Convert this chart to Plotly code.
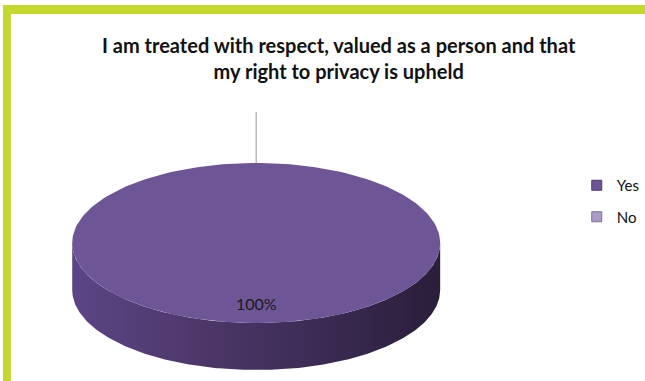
import numpy as np
import plotly.graph_objects as go

# Survey answers
categories = ["Yes", "No"]
values = [100, 0]
slice_colors = ["#6d5596", "#a99bc6"]
legend_edges = ["#4f3a70", "#7f6fa0"]
title_lines = [
    "I am treated with respect, valued as a person and that",
    "my right to privacy is upheld",
]

W, H = 645, 381
# 3-D pie geometry in pixel units of the hidden axes
cx, cy, rx, ry, depth = 259, 243, 186, 80, 47
label_radius = 0.75
leader_len = 51

total = float(sum(values))


def arc(t0, t1, n=240):
    t = np.linspace(t0, t1, n)
    return cx + rx * np.cos(t), cy - ry * np.sin(t)


def front_parts(t_hi, t_lo):
    """Pieces of the arc [t_lo, t_hi] lying on the front (lower) half of the ellipse."""
    parts = []
    for k in range(-3, 3):
        a, b = -np.pi + 2 * np.pi * k, 0 + 2 * np.pi * k
        lo, hi = max(t_lo, a), min(t_hi, b)
        if hi > lo:
            parts.append((lo, hi))
    return parts


fig = go.Figure()

# slice angles, starting at 12 o'clock and running clockwise
angles = []
start = np.pi / 2
for v in values:
    sweep = 2 * np.pi * v / total
    angles.append((start, start - sweep))
    start -= sweep

# side walls
for (t_hi, t_lo), v in zip(angles, values):
    if v <= 0:
        continue
    for lo, hi in front_parts(t_hi, t_lo):
        x, y = arc(lo, hi)
        xs = np.concatenate([x, x[::-1]])
        ys = np.concatenate([y, y[::-1] + depth])
        fig.add_trace(go.Scatter(
            x=xs, y=ys, mode="lines", line=dict(width=0), fill="toself",
            fillgradient=dict(type="horizontal", colorscale=[
                [0, "#5c4585"], [0.35, "#4d3769"], [0.7, "#3a2a52"], [1, "#2a1e3a"]]),
            hoverinfo="skip", showlegend=False))

# top faces
for (t_hi, t_lo), v, c in zip(angles, values, slice_colors):
    if v <= 0:
        continue
    x, y = arc(t_lo, t_hi)
    xs = np.concatenate([[cx], x, [cx]])
    ys = np.concatenate([[cy], y, [cy]])
    fig.add_trace(go.Scatter(
        x=xs, y=ys, mode="lines", line=dict(width=0), fill="toself",
        fillcolor=c, hoverinfo="skip", showlegend=False))

# labels and leader lines
for (t_hi, t_lo), v in zip(angles, values):
    mid = (t_hi + t_lo) / 2
    if v > 0:
        fig.add_annotation(
            x=cx + label_radius * rx * np.cos(mid),
            y=cy - label_radius * ry * np.sin(mid),
            text=f"{v / total:.0%}", showarrow=False,
            font=dict(family="Lato", size=16, color="#1a1a1a"))
    else:
        x0, y0 = cx + rx * np.cos(mid), cy - ry * np.sin(mid)
        fig.add_trace(go.Scatter(
            x=[x0, x0], y=[y0, y0 - leader_len], mode="lines",
            line=dict(color="#a6a6a6", width=1.2),
            hoverinfo="skip", showlegend=False))

# legend entries
for i, (name, c, e) in enumerate(zip(categories, slice_colors, legend_edges)):
    fig.add_trace(go.Scatter(
        x=[None], y=[None], mode="markers", name=name, legendgroup=name,
        marker=dict(symbol="square", size=10, color=c, line=dict(color=e, width=1))))

fig.add_annotation(
    x=0.532, y=1 - 58 / H, xref="paper", yref="paper",
    text="<b>" + "<br>".join(title_lines) + "</b>", showarrow=False,
    font=dict(family="Lato", size=20, color="#111111"),
    align="center", xanchor="center", yanchor="middle")

# frame bands
green = "#c4d92e"
fig.add_shape(type="rect", xref="paper", yref="paper",
              x0=3 / W, x1=11 / W, y0=-0.05, y1=1 - 5 / H,
              fillcolor=green, line=dict(width=0), layer="above")
fig.add_shape(type="rect", xref="paper", yref="paper",
              x0=3 / W, x1=1.1, y0=1 - 14 / H, y1=1 - 5 / H,
              fillcolor=green, line=dict(width=0), layer="above")

fig.update_layout(
    width=W, height=H,
    margin=dict(l=0, r=0, t=0, b=0),
    paper_bgcolor="white", plot_bgcolor="white",
    xaxis=dict(range=[0, W], visible=False, fixedrange=True),
    yaxis=dict(range=[H, 0], visible=False, fixedrange=True),
    legend=dict(x=0.904, y=1 - 169 / H, xanchor="left", yanchor="top",
                font=dict(family="Lato", size=15, color="#111111"),
                tracegroupgap=9, itemwidth=30, bgcolor="rgba(0,0,0,0)"),
    showlegend=True,
)

fig.write_html("out.html", config={"displayModeBar": False})
